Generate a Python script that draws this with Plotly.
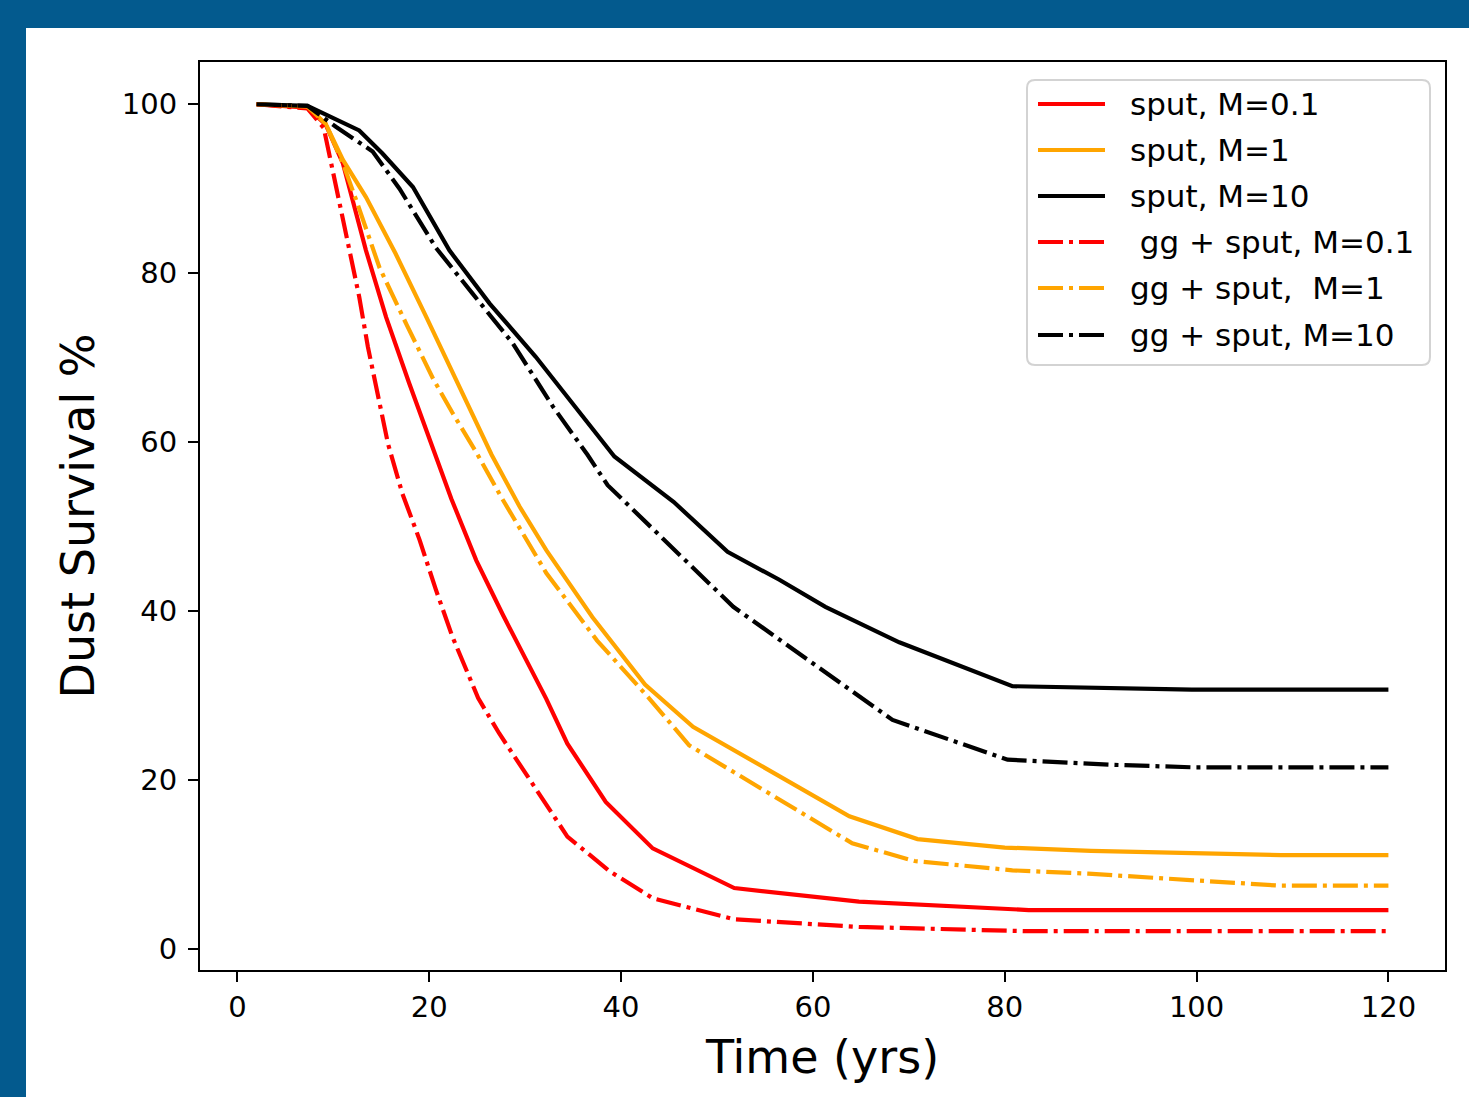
import plotly.graph_objects as go

# ---- data: time (yrs) and dust survival (%) for each run ----
t_sput_m01 = [2, 7.3, 9.2, 11.0, 13.4, 15.5, 17.9, 20.4, 22.3, 24.9, 27.7, 32.2, 34.4, 38.4, 43.3, 51.8, 64.8, 82.5, 100, 120]
s_sput_m01 = [100, 99.6, 97.6, 93.0, 82.7, 74.8, 67.0, 59.2, 53.3, 46.0, 39.5, 29.6, 24.3, 17.4, 11.9, 7.2, 5.6, 4.6, 4.6, 4.6]

t_sput_m1 = [2, 7.3, 9.2, 11.0, 13.4, 16.5, 19.7, 23.8, 26.5, 29.4, 32.2, 37.0, 42.5, 47.5, 63.8, 70.9, 80.0, 89.0, 108.8, 120]
s_sput_m1 = [100, 99.7, 97.7, 93.4, 89.0, 82.3, 74.8, 65.0, 58.5, 52.4, 47.2, 39.3, 31.3, 26.3, 15.7, 13.0, 12.0, 11.6, 11.1, 11.1]

t_sput_m10 = [2, 7.3, 12.7, 15.1, 18.3, 22.1, 26.3, 31.1, 39.3, 45.5, 51.1, 56.5, 61.3, 69.0, 80.8, 99.5, 120]
s_sput_m10 = [100, 99.8, 96.9, 94.2, 90.2, 82.7, 76.4, 70.1, 58.3, 52.9, 47.0, 43.7, 40.5, 36.3, 31.1, 30.7, 30.7]

t_gg_m01 = [2, 7.3, 9.0, 11.7, 12.7, 13.6, 14.6, 15.7, 17.2, 19.0, 20.7, 22.4, 25.1, 27.3, 31.2, 34.4, 38.8, 43.3, 51.8, 64.8, 82.0, 100, 120]
s_gg_m01 = [100, 99.5, 97.2, 82.7, 77.2, 71.3, 65.8, 59.8, 53.9, 48.4, 42.5, 37.0, 29.7, 25.5, 18.8, 13.3, 9.2, 6.0, 3.5, 2.6, 2.1, 2.1, 2.1]

t_gg_m1 = [2, 7.3, 9.2, 11.0, 12.4, 14.8, 17.6, 20.4, 22.4, 24.9, 27.5, 32.2, 37.5, 42.9, 47.1, 64.1, 70.6, 80.8, 88.7, 108.5, 120]
s_gg_m1 = [100, 99.7, 97.7, 93.0, 88.6, 80.7, 74.0, 67.5, 63.5, 58.8, 53.5, 44.5, 36.5, 29.7, 24.1, 12.5, 10.4, 9.3, 8.9, 7.5, 7.5]

t_gg_m10 = [2, 7.3, 10.3, 14.1, 16.9, 20.7, 24.5, 28.7, 32.9, 36.5, 38.6, 51.7, 68.3, 80.3, 91.0, 99.5, 120]
s_gg_m10 = [100, 99.8, 97.3, 94.4, 90.0, 83.0, 77.6, 71.7, 64.2, 58.5, 54.9, 40.5, 27.1, 22.4, 21.8, 21.5, 21.5]

series_names = ["sput, M=0.1", "sput, M=1", "sput, M=10",
                " gg + sput, M=0.1", "gg + sput,  M=1", "gg + sput, M=10"]
series_colors = ["#ff0000", "#ffa500", "#000000", "#ff0000", "#ffa500", "#000000"]
series_t = [t_sput_m01, t_sput_m1, t_sput_m10, t_gg_m01, t_gg_m1, t_gg_m10]
series_s = [s_sput_m01, s_sput_m1, s_sput_m10, s_gg_m01, s_gg_m1, s_gg_m10]

x_ticks = [0, 20, 40, 60, 80, 100, 120]
y_ticks = [0, 20, 40, 60, 80, 100]

# ---- page geometry ----
W, H = 1469, 1097
L, R, T, B = 200, 1445, 62, 970          # plot-area edges in page pixels
PW, PH = R - L, B - T

DASHDOT = "25px,6px,4px,6px"
LW = 4.2
FONT = "DejaVu Sans"


def px(xp):
    return (xp - L) / PW


def py(yp):
    return 1 - (yp - T) / PH


fig = go.Figure()
for i in range(6):
    fig.add_trace(go.Scatter(
        x=series_t[i], y=series_s[i], mode="lines", name=series_names[i],
        line=dict(color=series_colors[i], width=LW,
                  dash="solid" if i < 3 else DASHDOT),
        showlegend=False,
    ))

shapes = []
annotations = []

# blue page band along the top and left edge
band = "#035a8e"
shapes.append(dict(type="rect", xref="paper", yref="paper", layer="above",
                   x0=px(0), x1=px(W), y0=py(28), y1=py(0),
                   fillcolor=band, line=dict(width=0)))
shapes.append(dict(type="rect", xref="paper", yref="paper", layer="above",
                   x0=px(0), x1=px(26), y0=py(H), y1=py(0),
                   fillcolor=band, line=dict(width=0)))

# legend box with rounded corners
bx0, bx1, by0, by1, rr = 1027, 1430, 80, 365, 8
rx, ry = rr / PW, rr / PH
X0, X1, Y0, Y1 = px(bx0), px(bx1), py(by1), py(by0)
path = (f"M{X0 + rx},{Y1} L{X1 - rx},{Y1} Q{X1},{Y1} {X1},{Y1 - ry} "
        f"L{X1},{Y0 + ry} Q{X1},{Y0} {X1 - rx},{Y0} "
        f"L{X0 + rx},{Y0} Q{X0},{Y0} {X0},{Y0 + ry} "
        f"L{X0},{Y1 - ry} Q{X0},{Y1} {X0 + rx},{Y1} Z")
shapes.append(dict(type="path", xref="paper", yref="paper", path=path,
                   fillcolor="rgba(255,255,255,0.8)",
                   line=dict(color="#d3d3d3", width=2), layer="above"))

row_y = [104, 150, 196, 242, 288, 335]
for i in range(6):
    shapes.append(dict(type="line", xref="paper", yref="paper", layer="above",
                       x0=px(1038), x1=px(1105), y0=py(row_y[i]), y1=py(row_y[i]),
                       line=dict(color=series_colors[i], width=LW,
                                 dash="solid" if i < 3 else DASHDOT)))
    annotations.append(dict(xref="paper", yref="paper", x=px(1128), y=py(row_y[i]),
                            text=series_names[i].replace(" ", "\u00a0"),
                            showarrow=False, xanchor="left", yanchor="middle",
                            font=dict(family=FONT, size=31, color="black")))

axis_common = dict(showline=True, linecolor="black", linewidth=2, mirror=True,
                   ticks="outside", ticklen=10, tickwidth=2, tickcolor="black",
                   showgrid=False, zeroline=False,
                   tickfont=dict(family=FONT, size=29, color="black"))

fig.update_layout(
    width=W, height=H,
    margin=dict(l=L, r=W - R, t=T, b=H - B),
    paper_bgcolor="white", plot_bgcolor="white",
    shapes=shapes, annotations=annotations,
    xaxis=dict(range=[-3.9, 125.9], tickvals=x_ticks,
               title=dict(text="Time (yrs)", standoff=18,
                          font=dict(family=FONT, size=46, color="black")),
               **axis_common),
    yaxis=dict(range=[-2.5, 105], tickvals=y_ticks, ticklabelstandoff=5,
               title=dict(text="Dust Survival %", standoff=13,
                          font=dict(family=FONT, size=46, color="black")),
               **axis_common),
)

fig.write_html("out.html")
